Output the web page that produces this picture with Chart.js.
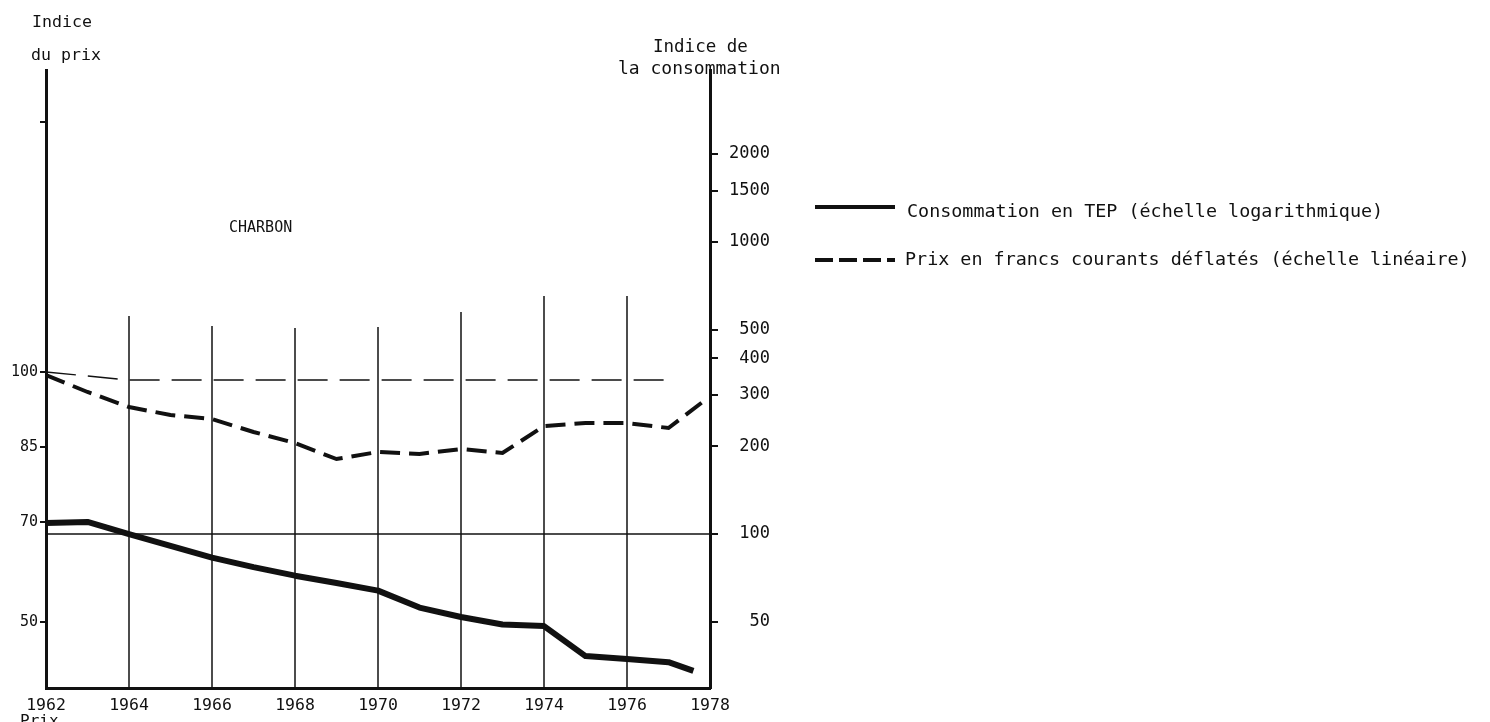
<!DOCTYPE html>
<html>
<head>
<meta charset="utf-8">
<script src="https://cdn.jsdelivr.net/npm/chart.js@4/dist/chart.umd.min.js"></script>
<style>
  html, body { margin: 0; padding: 0; background: #fff; overflow: hidden; }
  #wrap { position: relative; width: 1490px; height: 722px; }
  #chart { position: absolute; left: 0; top: 0; }
  .txt { position: absolute; font-family: 'DejaVu Sans Mono', monospace; color: #111; white-space: nowrap; line-height: 1; }
  .lg { font-size: 18.4px; }
  svg.sample { position: absolute; }
</style>
</head>
<body>
<div id="wrap">
  <canvas id="chart" width="1490" height="722"></canvas>
  <div class="txt" style="left:32px;top:14px;font-size:16.6px;">Indice</div>
  <div class="txt" style="left:31px;top:47px;font-size:16.6px;">du prix</div>
  <div class="txt" style="left:653px;top:38px;font-size:17.5px;">Indice de</div>
  <div class="txt" style="left:618px;top:59px;font-size:18px;">la consommation</div>
  <div class="txt" style="left:229px;top:220px;font-size:15px;">CHARBON</div>
  <svg class="sample" style="left:813px;top:199px" width="86" height="16">
    <line x1="2" y1="8" x2="82" y2="8" stroke="#111" stroke-width="4"/>
  </svg>
  <div class="txt lg" style="left:907px;top:202px;">Consommation en TEP (échelle logarithmique)</div>
  <svg class="sample" style="left:813px;top:252px" width="86" height="16">
    <line x1="2" y1="8" x2="82" y2="8" stroke="#111" stroke-width="4" stroke-dasharray="18 6"/>
  </svg>
  <div class="txt lg" style="left:905px;top:250px;">Prix en francs courants déflatés (échelle linéaire)</div>
  <div class="txt" style="left:20px;top:713px;font-size:16px;">Prix</div>
</div>
<script>
// Données (charbon, 1962-1978)
const consoYears = [1962, 1963, 1964, 1965, 1966, 1967, 1968, 1969, 1970, 1971, 1972, 1973, 1974, 1975, 1976, 1977, 1977.6];
const consoValues = [109, 110, 100, 91, 83, 77, 72, 68, 64, 56, 52, 49, 48.4, 38.2, 37.3, 36.4, 34];

const prixYears = [1962, 1963, 1964, 1965, 1966, 1967, 1968, 1969, 1970, 1971, 1972, 1973, 1974, 1975, 1976, 1977, 1977.9];
const prixValues = [99.4, 96, 93, 91.4, 90.6, 88, 85.8, 82.6, 84, 83.6, 84.6, 83.8, 89.2, 89.8, 89.8, 88.8, 94.5];

// ligne de référence fine (prix courants)
const refYears = [1962, 1964, 1977];
const refValues = [100, 98.4, 98.4];

// base 100 de la consommation
const baseYears = [1962, 1978];
const baseValues = [100, 100];

// traits verticaux partiels
const gridYears = [1964, 1966, 1968, 1970, 1972, 1974, 1976];
const gridTops = [111.2, 109.2, 108.8, 109, 112, 115.2, 115.2];

const yearTicks = [1962, 1964, 1966, 1968, 1970, 1972, 1974, 1976, 1978];
const prixTicks = [50, 70, 85, 100, 150];
const prixLabels = ['50', '70', '85', '100', ''];
const consoTicks = [50, 100, 200, 300, 400, 500, 1000, 1500, 2000];

const ink = '#111';
const mono = 'DejaVu Sans Mono';

const pts = (xs, ys) => xs.map((x, i) => ({ x, y: ys[i] }));

const datasets = [
  {
    label: 'Consommation en TEP (échelle logarithmique)',
    data: pts(consoYears, consoValues),
    yAxisID: 'yR',
    borderColor: ink,
    borderWidth: 6,
    pointRadius: 0,
    tension: 0,
    borderJoinStyle: 'round',
  },
  {
    label: 'Prix en francs courants déflatés (échelle linéaire)',
    data: pts(prixYears, prixValues),
    yAxisID: 'yL',
    borderColor: ink,
    borderWidth: 4,
    borderDash: [20, 9],
    pointRadius: 0,
    tension: 0,
  },
  {
    label: 'ref',
    data: pts(refYears, refValues),
    yAxisID: 'yL',
    borderColor: ink,
    borderWidth: 1.5,
    borderDash: [30, 12],
    pointRadius: 0,
    tension: 0,
  },
  {
    label: 'base',
    data: pts(baseYears, baseValues),
    yAxisID: 'yR',
    borderColor: ink,
    borderWidth: 1.5,
    pointRadius: 0,
  },
];

gridYears.forEach((yr, i) => {
  datasets.push({
    label: 'v' + yr,
    data: [{ x: yr, y: 36.8 }, { x: yr, y: gridTops[i] }],
    yAxisID: 'yL',
    borderColor: ink,
    borderWidth: 1.5,
    pointRadius: 0,
  });
});

new Chart(document.getElementById('chart').getContext('2d'), {
  type: 'line',
  data: { datasets },
  options: {
    responsive: false,
    animation: false,
    events: [],
    layout: { padding: { top: 70, bottom: 0, left: 0, right: 0 } },
    plugins: { legend: { display: false }, tooltip: { enabled: false } },
    scales: {
      x: {
        type: 'linear',
        min: 1962,
        max: 1978,
        afterBuildTicks: (s) => { s.ticks = yearTicks.map(v => ({ value: v })); },
        afterFit: (s) => { s.height = 34; },
        ticks: { color: ink, font: { family: mono, size: 16.5 }, padding: 8, maxRotation: 0, callback: (v) => String(v) },
        grid: { display: false, drawTicks: false },
        border: { color: ink, width: 3 },
      },
      yL: {
        type: 'linear',
        position: 'left',
        min: 36.8,
        max: 160.4,
        afterBuildTicks: (s) => { s.ticks = prixTicks.map(v => ({ value: v })); },
        afterFit: (s) => { s.width = 46; },
        ticks: {
          color: ink,
          font: { family: mono, size: 15 },
          padding: 2,
          callback: (v) => prixLabels[prixTicks.indexOf(v)],
        },
        grid: { drawOnChartArea: false, tickLength: 6, color: ink, lineWidth: 2 },
        border: { color: ink, width: 3 },
      },
      yR: {
        type: 'logarithmic',
        position: 'right',
        min: 29.7,
        max: 3880,
        afterBuildTicks: (s) => { s.ticks = consoTicks.map(v => ({ value: v })); },
        afterFit: (s) => { s.width = 780; },
        ticks: {
          color: ink,
          font: { family: mono, size: 17 },
          padding: 11,
          callback: (v) => String(v).padStart(4, ' '),
        },
        grid: { drawOnChartArea: false, tickLength: 8, color: ink, lineWidth: 2 },
        border: { color: ink, width: 3 },
      },
    },
  },
});
</script>
</body>
</html>
